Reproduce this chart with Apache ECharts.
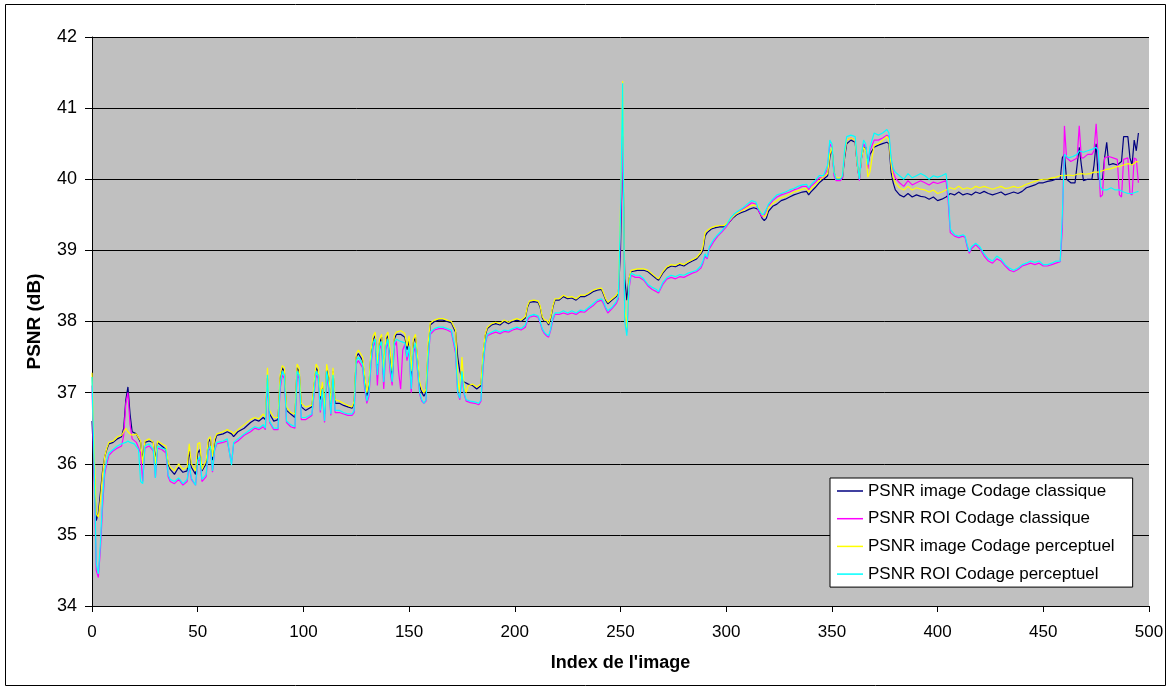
<!DOCTYPE html>
<html><head><meta charset="utf-8">
<script src="https://cdn.jsdelivr.net/npm/echarts@6/dist/echarts.min.js"></script>
<style>html,body{margin:0;padding:0;background:#fff}#c{width:1171px;height:691px}</style>
</head><body><div id="c"></div>
<script>
const seriesNames = ['PSNR image Codage classique','PSNR ROI Codage classique','PSNR image Codage perceptuel','PSNR ROI Codage perceptuel'];
const seriesColors = ['#000080','#ff00ff','#ffff00','#00ffff'];
const xTicks = {min:0, max:500, step:50};
const yTicks = {min:34, max:42, step:1};

const imgClassique = [[0,36.6],[1,35.9],[2,35.2],[3,35.3],[4,35.6],[5,35.9],[6,36.1],[7,36.2],[8,36.28],[10,36.3],[12,36.35],[14,36.38],[15,36.5],[16,36.9],[17,37.08],[18,36.7],[19,36.45],[21,36.42],[23,36.3],[24,36.05],[25,36.3],[27,36.32],[29,36.3],[30,36.05],[31,36.3],[33,36.25],[35,36.2],[36,36.0],[37,35.92],[39,35.85],[41,35.95],[43,35.88],[45,35.9],[46,36.2],[47,35.95],[49,35.85],[50,36.15],[51,36.2],[52,35.9],[54,36.0],[55,36.3],[56,36.35],[57,36.05],[58,36.3],[59,36.4],[62,36.42],[64,36.45],[66,36.42],[67,36.38],[69,36.45],[72,36.5],[75,36.58],[77,36.62],[79,36.6],[81,36.65],[82,36.62],[83,37.2],[84,36.7],[86,36.6],[88,36.62],[89,37.2],[90,37.35],[91,37.3],[92,36.75],[94,36.7],[96,36.65],[97,37.35],[98,37.3],[99,36.8],[101,36.75],[104,36.8],[106,37.35],[107,37.3],[108,36.9],[109,37.1],[110,36.7],[111,37.35],[112,37.2],[113,36.8],[114,37.3],[115,36.85],[117,36.85],[119,36.82],[121,36.8],[123,36.78],[124,36.85],[125,37.5],[126,37.55],[127,37.5],[128,37.45],[129,37.2],[130,36.95],[131,37.1],[132,37.55],[133,37.75],[134,37.8],[135,37.3],[136,37.7],[137,37.78],[138,37.2],[139,37.75],[140,37.8],[141,37.5],[142,37.2],[143,37.75],[144,37.82],[146,37.82],[148,37.78],[149,37.6],[150,37.75],[151,37.2],[152,37.7],[153,37.78],[154,37.45],[155,37.1],[156,37.0],[157,36.95],[158,37.0],[159,37.6],[160,37.95],[162,38.0],[164,38.02],[166,38.02],[168,38.0],[170,37.98],[172,37.85],[173,37.5],[174,37.3],[175,37.2],[176,37.15],[178,37.12],[180,37.1],[182,37.05],[184,37.1],[185,37.5],[186,37.8],[187,37.9],[189,37.95],[191,37.97],[193,37.95],[195,38.0],[197,37.97],[199,38.0],[201,38.02],[203,38.0],[205,38.05],[206,38.2],[207,38.27],[209,38.28],[211,38.27],[212,38.2],[213,38.05],[214,38.0],[215,38.0],[216,37.95],[217,38.05],[218,38.2],[219,38.3],[221,38.3],[223,38.35],[225,38.32],[227,38.33],[229,38.3],[231,38.35],[233,38.35],[235,38.38],[237,38.42],[239,38.44],[241,38.45],[242,38.38],[243,38.3],[244,38.25],[246,38.3],[248,38.35],[249,38.4],[250,39.0],[251,40.6],[252,38.6],[253,38.3],[254,38.6],[255,38.7],[258,38.72],[261,38.72],[263,38.7],[265,38.65],[267,38.6],[268,38.58],[270,38.68],[272,38.75],[274,38.78],[276,38.77],[278,38.8],[280,38.78],[282,38.82],[284,38.85],[286,38.88],[288,38.95],[289,39.0],[290,39.2],[291,39.25],[293,39.3],[295,39.32],[297,39.33],[299,39.33],[301,39.38],[303,39.45],[305,39.5],[307,39.53],[309,39.55],[311,39.58],[313,39.6],[315,39.58],[316,39.52],[317,39.45],[318,39.42],[319,39.45],[320,39.55],[322,39.62],[324,39.65],[326,39.7],[328,39.72],[330,39.75],[332,39.78],[334,39.8],[336,39.82],[338,39.83],[339,39.78],[340,39.82],[342,39.88],[344,39.95],[346,40.0],[348,40.05],[349,40.3],[350,40.45],[351,40.1],[352,40.0],[354,40.0],[355,40.02],[356,40.3],[357,40.5],[359,40.55],[361,40.52],[362,40.2],[363,40.0],[364,40.3],[365,40.45],[366,40.45],[367,40.2],[368,40.35],[370,40.45],[372,40.48],[374,40.5],[376,40.52],[377,40.5],[378,40.1],[379,39.95],[380,39.85],[382,39.78],[384,39.75],[386,39.8],[388,39.75],[390,39.78],[392,39.76],[394,39.75],[396,39.72],[398,39.75],[400,39.7],[402,39.72],[404,39.75],[406,39.8],[408,39.78],[410,39.82],[412,39.78],[414,39.8],[416,39.78],[418,39.82],[420,39.8],[422,39.83],[424,39.8],[426,39.78],[428,39.8],[430,39.82],[432,39.78],[434,39.8],[436,39.82],[438,39.8],[440,39.83],[442,39.88],[444,39.9],[446,39.92],[448,39.95],[450,39.95],[452,39.97],[454,39.98],[456,40.0],[458,40.0],[459,40.3],[460,40.35],[461,40.0],[463,39.95],[465,39.95],[466,40.2],[467,40.45],[468,40.2],[469,39.98],[471,40.0],[473,40.0],[474,40.2],[475,40.5],[476,40.0],[478,40.0],[479,40.3],[480,40.52],[481,40.2],[483,40.22],[485,40.2],[487,40.25],[488,40.6],[490,40.6],[491,40.3],[492,40.2],[493,40.55],[494,40.4],[495,40.65]];

const roiClassique = [[0,37.1],[1,35.8],[2,34.5],[3,34.4],[4,34.8],[5,35.4],[6,35.85],[7,36.0],[8,36.12],[10,36.18],[12,36.22],[14,36.25],[15,36.4],[16,36.85],[17,37.0],[18,36.55],[19,36.35],[21,36.3],[23,36.15],[24,35.75],[25,36.22],[27,36.25],[29,36.18],[30,35.8],[31,36.22],[33,36.2],[35,36.15],[36,35.82],[37,35.75],[39,35.72],[41,35.78],[43,35.7],[45,35.75],[46,35.98],[47,35.78],[49,35.7],[50,36.02],[51,36.08],[52,35.75],[54,35.82],[55,36.18],[56,36.22],[57,35.88],[58,36.18],[59,36.28],[62,36.3],[64,36.32],[66,36.0],[67,36.28],[69,36.32],[72,36.4],[75,36.45],[77,36.5],[79,36.48],[81,36.52],[82,36.48],[83,37.2],[84,36.58],[86,36.48],[88,36.48],[89,37.05],[90,37.25],[91,37.2],[92,36.58],[94,36.52],[96,36.5],[97,37.25],[98,37.2],[99,36.62],[101,36.62],[104,36.68],[106,37.25],[107,37.2],[108,36.72],[109,37.0],[110,36.58],[111,37.25],[112,37.05],[113,36.68],[114,37.2],[115,36.72],[117,36.72],[119,36.7],[121,36.68],[123,36.68],[124,36.72],[125,37.4],[126,37.45],[127,37.4],[128,37.35],[129,37.05],[130,36.85],[131,36.95],[132,37.4],[133,37.65],[134,37.72],[135,37.1],[136,37.6],[137,37.7],[138,37.05],[139,37.6],[140,37.72],[141,37.3],[142,37.1],[143,37.65],[144,37.72],[145,37.3],[146,37.05],[147,37.6],[148,37.68],[149,37.45],[150,37.6],[151,37.0],[152,37.55],[153,37.65],[154,37.3],[155,36.98],[156,36.88],[157,36.85],[158,36.88],[159,37.45],[160,37.82],[162,37.88],[164,37.9],[166,37.9],[168,37.88],[170,37.85],[172,37.55],[173,37.0],[174,36.9],[175,37.25],[176,36.98],[177,36.88],[179,36.86],[181,36.85],[183,36.83],[184,36.88],[185,37.35],[186,37.68],[187,37.8],[189,37.83],[191,37.85],[193,37.83],[195,37.86],[197,37.85],[199,37.88],[201,37.9],[203,37.88],[205,37.92],[206,38.02],[207,38.06],[209,38.08],[211,38.06],[212,37.98],[213,37.88],[214,37.83],[215,37.8],[216,37.78],[217,37.88],[218,38.02],[219,38.1],[221,38.1],[223,38.12],[225,38.1],[227,38.12],[229,38.1],[231,38.14],[233,38.13],[235,38.18],[237,38.22],[239,38.28],[241,38.3],[242,38.25],[243,38.18],[244,38.12],[246,38.18],[248,38.25],[249,38.32],[250,39.3],[251,40.6],[252,38.1],[253,37.85],[254,38.45],[255,38.65],[257,38.62],[259,38.62],[261,38.58],[263,38.5],[265,38.45],[267,38.42],[268,38.4],[270,38.52],[272,38.6],[274,38.62],[276,38.6],[278,38.63],[280,38.62],[282,38.65],[284,38.68],[286,38.7],[288,38.75],[289,38.82],[290,38.92],[291,38.88],[292,39.02],[294,39.12],[296,39.2],[298,39.26],[300,39.33],[302,39.42],[304,39.5],[306,39.54],[308,39.58],[310,39.62],[312,39.67],[314,39.65],[315,39.58],[316,39.52],[317,39.47],[318,39.5],[319,39.55],[320,39.62],[322,39.7],[324,39.75],[326,39.78],[328,39.8],[330,39.82],[332,39.85],[334,39.87],[336,39.9],[338,39.9],[339,39.85],[340,39.9],[342,39.95],[344,40.02],[346,40.02],[348,40.15],[349,40.5],[350,40.45],[351,40.05],[352,39.98],[354,39.98],[355,40.02],[356,40.35],[357,40.55],[359,40.58],[361,40.55],[362,40.2],[363,39.98],[364,40.3],[365,40.5],[366,40.45],[367,40.15],[368,40.4],[370,40.55],[372,40.55],[374,40.58],[376,40.62],[377,40.6],[378,40.25],[379,40.1],[380,40.02],[382,39.95],[384,39.9],[386,39.98],[388,39.92],[390,39.95],[392,39.98],[394,39.95],[396,39.92],[398,39.96],[400,39.94],[402,39.96],[404,39.98],[405,39.7],[406,39.25],[408,39.2],[410,39.18],[412,39.2],[413,39.18],[414,39.05],[415,38.96],[416,39.02],[418,39.08],[420,39.02],[422,38.92],[424,38.85],[426,38.82],[428,38.88],[430,38.85],[432,38.78],[434,38.72],[436,38.7],[438,38.73],[440,38.78],[442,38.8],[444,38.82],[446,38.8],[448,38.82],[450,38.78],[452,38.78],[454,38.8],[456,38.82],[458,38.84],[459,39.3],[460,40.75],[461,40.3],[463,40.25],[465,40.28],[466,40.3],[467,40.75],[468,40.3],[469,40.3],[471,40.35],[473,40.35],[474,40.4],[475,40.78],[476,40.3],[477,39.75],[478,39.78],[479,40.3],[481,40.32],[483,40.3],[485,40.28],[486,39.78],[487,39.75],[488,40.28],[490,40.3],[491,39.8],[492,39.78],[493,40.3],[494,40.28],[495,39.95]];

const imgPerceptuel = [[0,37.28],[1,36.2],[2,35.3],[3,35.25],[4,35.5],[5,35.85],[6,36.1],[7,36.22],[8,36.3],[10,36.32],[12,36.38],[14,36.4],[15,36.45],[16,36.5],[17,36.45],[18,36.42],[19,36.4],[21,36.42],[23,36.32],[24,36.0],[25,36.32],[27,36.35],[29,36.3],[30,36.0],[31,36.32],[33,36.28],[35,36.25],[36,36.02],[37,35.95],[39,35.9],[41,36.0],[43,35.92],[45,35.95],[46,36.28],[47,36.0],[49,35.9],[50,36.28],[51,36.3],[52,35.92],[54,36.05],[55,36.35],[56,36.38],[57,36.1],[58,36.35],[59,36.42],[62,36.45],[64,36.48],[66,36.45],[67,36.42],[69,36.48],[72,36.55],[75,36.62],[77,36.65],[79,36.63],[81,36.7],[82,36.65],[83,37.35],[84,36.75],[86,36.65],[88,36.65],[89,37.25],[90,37.38],[91,37.35],[92,36.8],[94,36.72],[96,36.7],[97,37.4],[98,37.35],[99,36.85],[101,36.8],[104,36.82],[106,37.4],[107,37.35],[108,36.95],[109,37.15],[110,36.75],[111,37.4],[112,37.25],[113,36.85],[114,37.35],[115,36.9],[117,36.88],[119,36.85],[121,36.82],[123,36.8],[124,36.88],[125,37.55],[126,37.6],[127,37.55],[128,37.5],[129,37.25],[130,37.0],[131,37.15],[132,37.6],[133,37.8],[134,37.85],[135,37.4],[136,37.75],[137,37.82],[138,37.3],[139,37.8],[140,37.85],[141,37.6],[142,37.3],[143,37.8],[144,37.85],[146,37.87],[148,37.83],[149,37.65],[150,37.8],[151,37.3],[152,37.75],[153,37.82],[154,37.5],[155,37.15],[156,37.05],[157,37.0],[158,37.05],[159,37.7],[160,37.98],[162,38.02],[164,38.04],[166,38.04],[168,38.02],[170,38.0],[172,37.88],[173,37.2],[174,37.0],[175,37.5],[176,37.1],[177,37.0],[178,37.1],[180,37.12],[182,37.08],[184,37.12],[185,37.55],[186,37.82],[187,37.92],[189,37.97],[191,37.99],[193,37.97],[195,38.02],[197,37.99],[199,38.02],[201,38.04],[203,38.02],[205,38.07],[206,38.22],[207,38.29],[209,38.3],[211,38.29],[212,38.22],[213,38.07],[214,38.02],[215,38.02],[216,37.97],[217,38.07],[218,38.22],[219,38.32],[221,38.32],[223,38.37],[225,38.34],[227,38.35],[229,38.32],[231,38.37],[233,38.37],[235,38.4],[237,38.44],[239,38.46],[241,38.47],[242,38.4],[243,38.32],[244,38.27],[246,38.32],[248,38.37],[249,38.42],[250,39.6],[251,41.38],[252,38.2],[253,37.9],[254,38.6],[255,38.72],[258,38.74],[261,38.74],[263,38.72],[265,38.67],[267,38.62],[268,38.6],[270,38.7],[272,38.77],[274,38.8],[276,38.79],[278,38.82],[280,38.8],[282,38.84],[284,38.87],[286,38.9],[288,38.97],[289,39.05],[290,39.25],[291,39.28],[293,39.32],[295,39.34],[297,39.35],[299,39.35],[301,39.4],[303,39.47],[305,39.52],[307,39.55],[309,39.58],[311,39.62],[313,39.64],[315,39.62],[316,39.56],[317,39.5],[318,39.47],[319,39.5],[320,39.6],[322,39.66],[324,39.7],[326,39.74],[328,39.76],[330,39.79],[332,39.82],[334,39.84],[336,39.86],[338,39.87],[339,39.82],[340,39.86],[342,39.92],[344,39.98],[346,40.03],[348,40.08],[349,40.35],[350,40.45],[351,40.1],[352,40.02],[354,40.02],[355,40.05],[356,40.35],[357,40.55],[359,40.58],[361,40.55],[362,40.2],[363,40.02],[364,40.3],[365,40.45],[366,40.4],[367,40.03],[368,40.1],[369,40.3],[370,40.48],[372,40.5],[374,40.55],[376,40.6],[377,40.55],[378,40.2],[379,40.02],[380,39.95],[382,39.88],[384,39.85],[386,39.9],[388,39.85],[390,39.88],[392,39.86],[394,39.85],[396,39.82],[398,39.85],[400,39.8],[402,39.82],[404,39.85],[406,39.88],[408,39.86],[410,39.9],[412,39.86],[414,39.88],[416,39.86],[418,39.9],[420,39.88],[422,39.9],[424,39.88],[426,39.86],[428,39.88],[430,39.9],[432,39.87],[434,39.88],[436,39.9],[438,39.88],[440,39.9],[442,39.93],[444,39.95],[446,39.97],[448,39.99],[450,40.0],[452,40.0],[454,40.02],[456,40.03],[458,40.05],[460,40.05],[462,40.06],[464,40.05],[466,40.07],[468,40.08],[470,40.07],[472,40.08],[474,40.1],[476,40.1],[478,40.12],[480,40.14],[482,40.15],[484,40.17],[486,40.18],[488,40.2],[490,40.22],[492,40.2],[494,40.25],[495,40.24]];

const roiPerceptuel = [[0,37.22],[1,36.0],[2,34.6],[3,34.45],[4,34.9],[5,35.5],[6,35.9],[7,36.05],[8,36.15],[10,36.2],[12,36.25],[14,36.28],[16,36.3],[17,36.32],[18,36.3],[20,36.28],[22,36.2],[23,35.75],[24,35.72],[25,36.25],[27,36.28],[29,36.2],[30,35.8],[31,36.25],[33,36.22],[35,36.2],[36,35.85],[37,35.78],[39,35.75],[41,35.8],[43,35.72],[45,35.78],[46,36.0],[47,35.8],[49,35.7],[50,36.05],[51,36.1],[52,35.78],[54,35.85],[55,36.2],[56,36.25],[57,35.9],[58,36.2],[59,36.3],[62,36.32],[64,36.35],[66,35.98],[67,36.3],[69,36.35],[72,36.42],[75,36.48],[77,36.52],[79,36.5],[81,36.55],[82,36.5],[83,37.25],[84,36.6],[86,36.5],[88,36.5],[89,37.1],[90,37.3],[91,37.25],[92,36.6],[94,36.55],[96,36.52],[97,37.3],[98,37.25],[99,36.65],[101,36.65],[104,36.7],[106,37.3],[107,37.25],[108,36.75],[109,37.05],[110,36.6],[111,37.3],[112,37.1],[113,36.7],[114,37.25],[115,36.75],[117,36.75],[119,36.72],[121,36.7],[123,36.7],[124,36.75],[125,37.45],[126,37.5],[127,37.45],[128,37.4],[129,37.1],[130,36.88],[131,37.0],[132,37.45],[133,37.7],[134,37.75],[135,37.25],[136,37.65],[137,37.72],[138,37.15],[139,37.65],[140,37.75],[141,37.4],[142,37.15],[143,37.7],[144,37.75],[146,37.72],[148,37.7],[149,37.5],[150,37.65],[151,37.05],[152,37.6],[153,37.7],[154,37.35],[155,37.0],[156,36.9],[157,36.85],[158,36.9],[159,37.5],[160,37.85],[162,37.9],[164,37.92],[166,37.92],[168,37.9],[170,37.88],[172,37.6],[173,37.0],[174,36.92],[175,37.3],[176,37.0],[177,36.9],[179,36.88],[181,36.87],[183,36.85],[184,36.9],[185,37.4],[186,37.7],[187,37.82],[189,37.85],[191,37.88],[193,37.85],[195,37.88],[197,37.87],[199,37.9],[201,37.92],[203,37.9],[205,37.95],[206,38.05],[207,38.08],[209,38.1],[211,38.08],[212,38.0],[213,37.9],[214,37.85],[215,37.82],[216,37.8],[217,37.9],[218,38.05],[219,38.12],[221,38.12],[223,38.15],[225,38.12],[227,38.15],[229,38.12],[231,38.16],[233,38.15],[235,38.2],[237,38.25],[239,38.3],[241,38.32],[242,38.28],[243,38.2],[244,38.15],[246,38.2],[248,38.28],[249,38.35],[250,39.5],[251,41.35],[252,38.0],[253,37.8],[254,38.5],[255,38.68],[257,38.65],[259,38.65],[261,38.6],[263,38.52],[265,38.48],[267,38.45],[268,38.42],[270,38.55],[272,38.62],[274,38.65],[276,38.63],[278,38.66],[280,38.65],[282,38.68],[284,38.7],[286,38.72],[288,38.78],[289,38.85],[290,38.95],[291,38.9],[292,39.05],[294,39.15],[296,39.22],[298,39.28],[300,39.35],[302,39.45],[304,39.52],[306,39.56],[308,39.6],[310,39.65],[312,39.7],[314,39.68],[315,39.6],[316,39.55],[317,39.5],[318,39.52],[319,39.58],[320,39.65],[322,39.72],[324,39.78],[326,39.8],[328,39.82],[330,39.85],[332,39.87],[334,39.9],[336,39.92],[338,39.93],[339,39.88],[340,39.92],[342,39.98],[344,40.05],[346,40.05],[348,40.2],[349,40.55],[350,40.5],[351,40.1],[352,40.0],[354,40.0],[355,40.05],[356,40.4],[357,40.6],[359,40.62],[361,40.6],[362,40.25],[363,40.0],[364,40.35],[365,40.55],[366,40.5],[367,40.2],[368,40.45],[370,40.65],[372,40.62],[374,40.65],[376,40.7],[377,40.65],[378,40.3],[379,40.15],[380,40.1],[382,40.05],[384,40.0],[386,40.08],[388,40.02],[390,40.05],[392,40.08],[394,40.05],[396,40.0],[398,40.05],[400,40.03],[402,40.05],[404,40.08],[405,39.8],[406,39.3],[408,39.22],[410,39.2],[412,39.22],[413,39.2],[414,39.08],[415,38.98],[416,39.05],[418,39.1],[420,39.05],[422,38.95],[424,38.88],[426,38.85],[428,38.92],[430,38.88],[432,38.8],[434,38.75],[436,38.72],[438,38.75],[440,38.8],[442,38.82],[444,38.85],[446,38.83],[448,38.85],[450,38.8],[452,38.8],[454,38.82],[456,38.85],[458,38.85],[459,39.5],[460,40.35],[462,40.3],[464,40.32],[466,40.35],[467,40.4],[469,40.38],[471,40.4],[473,40.42],[475,40.45],[476,40.4],[477,39.9],[478,39.85],[480,39.85],[482,39.88],[484,39.85],[486,39.85],[488,39.82],[490,39.8],[492,39.8],[494,39.82],[495,39.83]];

const allData = [imgClassique, roiClassique, imgPerceptuel, roiPerceptuel];
const FONT = 'Arial, "Liberation Sans", sans-serif';

const chart = echarts.init(document.getElementById('c'), null, {renderer:'canvas'});
chart.setOption({
  animation:false,
  backgroundColor:'#ffffff',
  graphic:[{type:'rect', shape:{x:5.5,y:4.5,width:1160,height:681}, style:{fill:'none', stroke:'#000', lineWidth:1}, z:-1}],
  grid:{left:92, right:22, top:37, bottom:85, show:true, backgroundColor:'#c0c0c0', borderWidth:0},
  xAxis:{type:'value', min:xTicks.min, max:xTicks.max, interval:xTicks.step,
    name:"Index de l'image", nameLocation:'middle', nameGap:48,
    nameTextStyle:{fontFamily:FONT, fontSize:18, fontWeight:'bold', color:'#000'},
    axisLine:{onZero:false, lineStyle:{color:'#000', width:1}},
    axisTick:{show:true, length:6, inside:false, lineStyle:{color:'#000'}},
    axisLabel:{fontFamily:FONT, fontSize:17, color:'#000', margin:18},
    splitLine:{show:false}},
  yAxis:{type:'value', min:yTicks.min, max:yTicks.max, interval:yTicks.step,
    name:'PSNR (dB)', nameLocation:'middle', nameGap:48, nameRotate:90,
    nameTextStyle:{fontFamily:FONT, fontSize:19, fontWeight:'bold', color:'#000'},
    axisLine:{show:true, lineStyle:{color:'#000', width:1}},
    axisTick:{show:true, length:7, inside:false, lineStyle:{color:'#000'}},
    axisLabel:{fontFamily:FONT, fontSize:18, color:'#000', margin:15},
    splitLine:{show:true, lineStyle:{color:'#000', width:1}}},
  legend:{orient:'vertical', left:830, top:478, padding:[1,18,1,7], itemGap:3.7,
    backgroundColor:'#ffffff', borderColor:'#000', borderWidth:1, borderRadius:0,
    icon:'rect', itemWidth:26, itemHeight:1.5,
    textStyle:{fontFamily:FONT, fontSize:17, color:'#000', lineHeight:24, padding:[0,0,0,0]},
    data:seriesNames},
  series: seriesNames.map((n,i)=>({
    name:n, type:'line', data:allData[i], showSymbol:false, symbol:'none',
    lineStyle:{color:seriesColors[i], width:1.2}, itemStyle:{color:seriesColors[i]},
    z:2+i
  }))
});
</script></body></html>
